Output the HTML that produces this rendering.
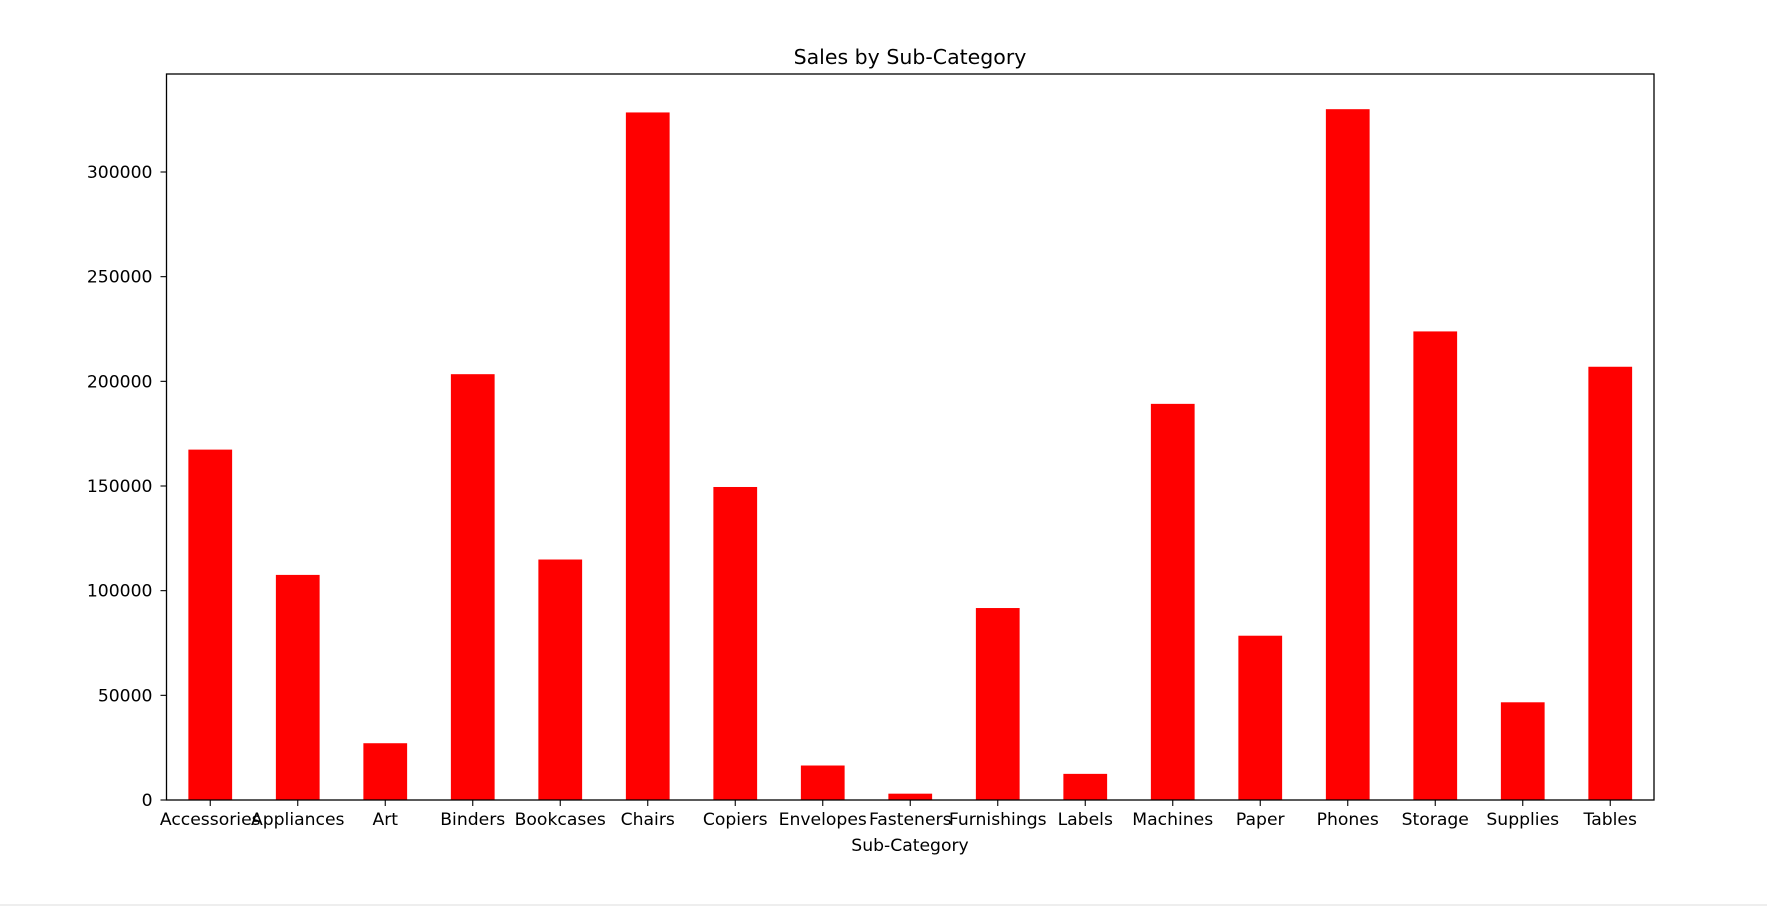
<!DOCTYPE html>
<html><head><meta charset="utf-8"><style>
html,body{margin:0;padding:0;background:#fff;}
svg{display:block;font-family:"DejaVu Sans","Liberation Sans",sans-serif;}
</style></head><body>
<svg id="chart" width="1767" height="906" viewBox="0 0 1767 906">
<rect x="0" y="904" width="1767" height="2" fill="#eeeeee"/>
<text x="910" y="64" font-size="20.5" text-anchor="middle" fill="#000">Sales by Sub-Category</text>
<g id="bars"></g>
<g id="axes"></g>
<text x="910" y="851" font-size="17.2" text-anchor="middle" fill="#000">Sub-Category</text>
</svg>
<script>
const categories = ["Accessories","Appliances","Art","Binders","Bookcases","Chairs","Copiers","Envelopes","Fasteners","Furnishings","Labels","Machines","Paper","Phones","Storage","Supplies","Tables"];
const sales = [167380,107532,27119,203413,114880,328449,149528,16476,3024,91705,12486,189239,78479,330007,223844,46674,206966];
const yTicks = [0,50000,100000,150000,200000,250000,300000];
const yTickLabels = ["0","50000","100000","150000","200000","250000","300000"];

const NS = "http://www.w3.org/2000/svg";
const L = 166.5, R = 1654, T = 74, B = 800;
const yMax = 300000 * (B - T) / 628;
function xScale(i){ return L + (i + 0.5) * (R - L) / categories.length; }
function yScale(v){ return B - v / yMax * (B - T); }
const bw = 0.5 * (R - L) / categories.length;

const bars = document.getElementById('bars');
categories.forEach((c, i) => {
  const r = document.createElementNS(NS, 'rect');
  r.setAttribute('x', xScale(i) - bw / 2);
  r.setAttribute('y', yScale(sales[i]));
  r.setAttribute('width', bw);
  r.setAttribute('height', B - yScale(sales[i]));
  r.setAttribute('fill', '#ff0000');
  
  
  bars.appendChild(r);
});

const axes = document.getElementById('axes');
const frame = document.createElementNS(NS, 'rect');
frame.setAttribute('x', L); frame.setAttribute('y', T);
frame.setAttribute('width', R - L); frame.setAttribute('height', B - T);
frame.setAttribute('fill', 'none'); frame.setAttribute('stroke', '#000'); frame.setAttribute('stroke-width', '1.3');


axes.appendChild(frame);

yTicks.forEach((v, i) => {
  const y = yScale(v);
  const t = document.createElementNS(NS, 'line');
  t.setAttribute('x1', L - 6); t.setAttribute('x2', L);
  t.setAttribute('y1', y); t.setAttribute('y2', y);
  t.setAttribute('stroke', '#000'); t.setAttribute('stroke-width', '1.1');
  
  
  axes.appendChild(t);
  const tx = document.createElementNS(NS, 'text');
  tx.setAttribute('x', L - 14); tx.setAttribute('y', y + 6);
  tx.setAttribute('font-size', '17.2'); tx.setAttribute('text-anchor', 'end');
  tx.textContent = yTickLabels[i];
  
  
  axes.appendChild(tx);
});

categories.forEach((c, i) => {
  const x = xScale(i);
  const t = document.createElementNS(NS, 'line');
  t.setAttribute('x1', x); t.setAttribute('x2', x);
  t.setAttribute('y1', B); t.setAttribute('y2', B + 6);
  t.setAttribute('stroke', '#000'); t.setAttribute('stroke-width', '1.1');
  
  
  axes.appendChild(t);
  const tx = document.createElementNS(NS, 'text');
  tx.setAttribute('x', x); tx.setAttribute('y', B + 25);
  tx.setAttribute('font-size', '17.2'); tx.setAttribute('text-anchor', 'middle');
  tx.textContent = c;
  
  
  axes.appendChild(tx);
});
</script>
</body></html>
